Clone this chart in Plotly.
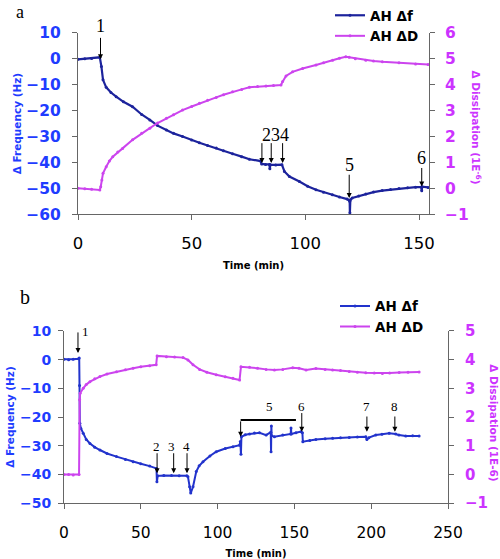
import plotly.graph_objects as go

# ---------------- Panel a data ----------------
t_a_f = [0, 3, 6, 9.6, 10.3, 11, 12.4, 14.5, 16.8, 20, 24, 28, 31.6, 35, 38.9, 42, 46, 50,
         53.4, 57, 60.8, 64, 68, 72, 75.4, 80.3, 80.8, 82.5, 84.2, 84.4, 84.6, 87, 89.7,
         90.8, 93, 97.4, 101, 104.7, 108, 111.9, 115, 118.4, 119.5, 119.6, 119.8, 120.6,
         123.5, 126.6, 130, 133.8, 137.5, 141.2, 145, 148.5, 151, 151.2, 151.4, 154]
f_a = [-0.2, 0.0, 0.1, 0.6, -3, -8.1, -11, -13, -14.6, -16.6, -18.5, -21.5, -23.6, -25.8,
       -27.5, -28.8, -30, -31.4, -32.4, -33.5, -34.5, -35.5, -36.7, -37.8, -38.8, -39.5,
       -40.6, -40.8, -40.8, -42.5, -40.9, -41, -40.9, -43.5, -45.5, -47.4, -49.2, -50.6,
       -51.6, -52.5, -53.4, -54.2, -55, -59.5, -54.5, -53.8, -53, -52.2, -51.5, -50.9,
       -50.5, -50.1, -49.8, -49.6, -49.5, -51, -49.4, -49.7]

t_a_d = [0, 3, 6, 9.6, 10, 10.5, 11, 12.4, 13.8, 15.3, 17.5, 19.6, 24, 28, 31.6, 35, 38.9,
         42, 46, 50, 53.4, 57, 60.8, 64, 68, 72, 75.4, 79, 82.7, 86, 89.3, 90, 91.5, 94.4,
         98.8, 104.7, 108, 112, 115, 117.8, 119.3, 122, 126.6, 130, 133.9, 141.2, 148.5, 154]
d_a = [0.0, -0.02, -0.04, -0.07, 0.06, 0.32, 0.58, 0.83, 1.05, 1.22, 1.4, 1.54, 1.87, 2.12,
       2.32, 2.52, 2.7, 2.84, 3.02, 3.16, 3.28, 3.4, 3.51, 3.61, 3.73, 3.82, 3.9, 3.93, 3.95,
       3.97, 3.99, 4.12, 4.34, 4.5, 4.63, 4.76, 4.85, 4.95, 5.02, 5.08, 5.06, 5.0, 4.95,
       4.92, 4.89, 4.85, 4.8, 4.78]

# ---------------- Panel b data ----------------
t_b_f = [0, 3, 6, 9.5, 9.9, 10.1, 10.3, 11, 12.5, 14.5, 16.9, 20, 23.4, 28, 34.2, 40, 45, 50,
         55.8, 60.2, 60.5, 61, 65, 70, 75, 80, 80.7, 81.8, 82.5, 84, 86.1, 88, 90.5, 95,
         99.1, 105, 110, 114.3, 114.8, 115.2, 115.5, 118, 120.8, 124, 127.3, 131.6, 134.6,
         134.8, 135, 135.2, 137, 142.4, 147.6, 147.8, 148, 151, 154.3, 155.2, 155.5, 160,
         164, 170, 174.9, 180, 185.7, 191, 196.5, 197.2, 198.5, 203, 207, 211.7, 216, 218,
         222.5, 227, 231.2]
f_b = [0.1, 0.0, 0.1, 0.3, 0.6, -9, -22.2, -24, -25.7, -27.8, -29.2, -30.5, -31.5, -32.7,
       -33.8, -34.8, -35.6, -36.3, -37.1, -37.9, -42.6, -40.5, -40.4, -40.4, -40.5, -40.5,
       -40.8, -44.3, -46.5, -44.3, -39, -37, -35.6, -33.6, -32.1, -31, -30.4, -29.8, -28.5,
       -33, -26.9, -26.2, -25.9, -25.6, -25.5, -26.3, -25.3, -32.1, -23.1, -26.5, -26.9,
       -26.3, -25.9, -23.8, -25.9, -25.5, -25.1, -25.5, -28.6, -28.2, -27.8, -27.6, -27.4,
       -27.2, -27.1, -27.0, -26.9, -27.8, -27.2, -26.3, -26.0, -25.7, -25.9, -26.3, -26.6,
       -26.5, -26.6]

t_b_d = [0, 3, 6, 9.8, 10.2, 10.5, 12.5, 14.5, 16.9, 20, 23.4, 28, 34.2, 40, 45, 50, 55.8, 60,
         60.6, 66.7, 72, 77.5, 80.7, 84, 88.3, 93, 99.1, 105, 110, 114.3, 115.2, 120.8, 126,
         131.6, 137, 142.4, 148.9, 153, 157.6, 164, 170, 174.9, 180, 185.7, 191, 196.5, 202,
         207.3, 212, 218.2, 224, 231.2]
d_b = [0.0, 0.0, -0.02, 0.0, 2.6, 2.83, 3.0, 3.13, 3.23, 3.33, 3.41, 3.5, 3.58, 3.65, 3.7,
       3.75, 3.79, 3.82, 4.13, 4.1, 4.09, 4.07, 3.99, 3.82, 3.66, 3.56, 3.47, 3.4, 3.35, 3.29,
       3.75, 3.73, 3.7, 3.66, 3.64, 3.66, 3.72, 3.7, 3.64, 3.69, 3.66, 3.64, 3.62, 3.59, 3.56,
       3.54, 3.53, 3.52, 3.53, 3.55, 3.56, 3.57]

# Event markers (arrow x, arrow tip y, arrow tail y)
arrows_a = [(80.9, -40.3, -32), (85, -40.3, -32), (90, -40.3, -32),
            (119.3, -53.8, -44.2), (151.2, -49.3, -41.6)]
labels_a = [("234", 86.8, -29.6), ("5", 119.3, -41.0), ("6", 151.2, -38.4)]
first_event_a = ("1", 9.9, -0.2)   # label drawn above the arrow

arrows_b = [(9.1, 2.3, 10.0), (60.6, -39.6, -32.1), (71.4, -39.6, -32.1),
            (80.1, -39.6, -32.1), (115, -26.9, -21.0), (154.8, -25.1, -18.1),
            (197.2, -25.1, -19.3), (215.4, -25.1, -19.3)]
labels_b = [("1", 14.3, 9.65), ("2", 60.4, -30.4), ("3", 70.0, -30.4), ("4", 80.0, -30.4),
            ("5", 134, -16.5), ("6", 154.8, -16.4), ("7", 197.2, -16.4), ("8", 215.4, -16.4)]
bracket_b = (115, 151, -21.0)

BLUE_A = "#1c239c"
BLUE_B = "#2233cc"
MAG = "#cc44ee"
TICK_BLUE = "#1f3cff"
TICK_MAG = "#cc33ff"
AXC = "#666666"
FONT = "DejaVu Sans"

fig = go.Figure()
fig.add_trace(go.Scatter(x=t_a_f, y=f_a, name="AH \u0394f", mode="lines+markers",
                         line=dict(color=BLUE_A, width=2.2), marker=dict(size=3, color=BLUE_A),
                         xaxis="x", yaxis="y", legend="legend"))
fig.add_trace(go.Scatter(x=t_a_d, y=d_a, name="AH \u0394D", mode="lines+markers",
                         line=dict(color=MAG, width=2), marker=dict(size=3, color=MAG),
                         xaxis="x", yaxis="y2", legend="legend"))
fig.add_trace(go.Scatter(x=t_b_f, y=f_b, name="AH \u0394f", mode="lines+markers",
                         line=dict(color=BLUE_B, width=2), marker=dict(size=3, color=BLUE_B),
                         xaxis="x2", yaxis="y3", legend="legend2"))
fig.add_trace(go.Scatter(x=t_b_d, y=d_b, name="AH \u0394D", mode="lines+markers",
                         line=dict(color=MAG, width=2), marker=dict(size=3, color=MAG),
                         xaxis="x2", yaxis="y4", legend="legend2"))

common_x = dict(showline=True, linecolor=AXC, linewidth=1, ticks="outside", ticklen=5,
                tickcolor=AXC, showgrid=False, zeroline=False, dtick=50, tick0=0,
                automargin=False)
common_y = dict(showline=True, linecolor=AXC, linewidth=1, ticks="outside", ticklen=5,
                tickcolor=AXC, showgrid=False, zeroline=False, automargin=False)

ann = []
def arrow(xr, yr, x, tip, tail):
    ann.append(dict(x=x, y=tip, ax=x, ay=tail, xref=xr, yref=yr, axref=xr, ayref=yr,
                    text="", showarrow=True, arrowhead=2, arrowsize=1, arrowwidth=1,
                    arrowcolor="black"))
def label(xr, yr, x, y, text, size):
    ann.append(dict(x=x, y=y, xref=xr, yref=yr, text=text, showarrow=False,
                    font=dict(family="Liberation Serif", size=size, color="black")))

# panel a
lab, x1, y1 = first_event_a
ann.append(dict(x=x1, y=y1, xref="x", yref="y", ax=0, ay=-33, text=lab, showarrow=True,
                arrowhead=2, arrowsize=1, arrowwidth=1, arrowcolor="black",
                font=dict(family="Liberation Serif", size=18, color="black")))
for (x, tip, tail) in arrows_a:
    arrow("x", "y", x, tip, tail)
for (lab, lx, ly) in labels_a:
    label("x", "y", lx, ly, lab, 18)
# panel b
for (x, tip, tail) in arrows_b:
    arrow("x2", "y3", x, tip, tail)
for (lab, lx, ly) in labels_b:
    label("x2", "y3", lx, ly, lab, 13)

# panel letters
ann.append(dict(x=0.04, y=1.0, xref="paper", yref="paper", text="a", showarrow=False,
                xanchor="center", yanchor="top",
                font=dict(family="Liberation Serif", size=18, color="black")))
ann.append(dict(x=0.05, y=0.469, xref="paper", yref="paper", text="b", showarrow=False,
                xanchor="center", yanchor="middle",
                font=dict(family="Liberation Serif", size=20, color="black")))
# right axis titles (read top to bottom)
ann.append(dict(x=0.954, y=0.772, xref="paper", yref="paper", xanchor="center",
                yanchor="middle",
                text="\u0394 Dissipation (1E<sup>-6</sup>)", textangle=90, showarrow=False,
                font=dict(family=FONT, size=10.5, color=TICK_MAG, weight="bold")))
ann.append(dict(x=0.988, y=0.243, xref="paper", yref="paper", xanchor="center",
                yanchor="middle",
                text="\u0394 Dissipation (1E-6)", textangle=90, showarrow=False,
                font=dict(family=FONT, size=10.5, color=TICK_MAG, weight="bold")))

shapes = [dict(type="line", xref="x2", yref="y3", x0=bracket_b[0], x1=bracket_b[1],
               y0=bracket_b[2], y1=bracket_b[2], line=dict(color="black", width=2))]

fig.update_layout(
    width=500, height=559, margin=dict(l=0, r=0, t=0, b=0, autoexpand=False),
    paper_bgcolor="white", plot_bgcolor="white",
    font=dict(family=FONT, color="black"),
    xaxis=dict(common_x, domain=[0.156, 0.858], range=[0, 154.4], anchor="y",
               tickfont=dict(size=16.5, color="black"), ticklabelstandoff=9,
               title=dict(text="Time (min)", standoff=10,
                          font=dict(size=10, color="black", weight="bold"))),
    yaxis=dict(common_y, domain=[0.617, 0.941], range=[-60, 10], dtick=10, anchor="x",
               tickfont=dict(size=15.5, color=TICK_BLUE, weight="bold"), ticklabelstandoff=8,
               title=dict(text="\u0394 Frequency (Hz)", standoff=2,
                          font=dict(size=10.5, color=TICK_BLUE, weight="bold"))),
    yaxis2=dict(common_y, overlaying="y", side="right", range=[-1, 6], dtick=1, anchor="x",
                tickfont=dict(size=15.5, color=TICK_MAG, weight="bold"), ticklabelstandoff=7),
    xaxis2=dict(common_x, domain=[0.128, 0.896], range=[0, 250], anchor="y3",
                tickfont=dict(size=15.5, color="black"), ticklabelstandoff=10,
                title=dict(text="Time (min)", standoff=10,
                           font=dict(size=10, color="black", weight="bold"))),
    yaxis3=dict(common_y, domain=[0.100, 0.408], range=[-50, 10], dtick=10, anchor="x2",
                tickfont=dict(size=14, color=TICK_BLUE, weight="bold"), ticklabelstandoff=4,
                title=dict(text="\u0394 Frequency (Hz)", standoff=3,
                           font=dict(size=10.5, color=TICK_BLUE, weight="bold"))),
    yaxis4=dict(common_y, overlaying="y3", side="right", range=[-1, 5], dtick=1, anchor="x2",
                tickfont=dict(size=15, color=TICK_MAG, weight="bold"), ticklabelstandoff=8),
    legend=dict(x=0.66, y=1.0, xanchor="left", yanchor="top", bgcolor="rgba(0,0,0,0)",
                font=dict(size=13.5, color="black", weight="bold"), tracegroupgap=0),
    legend2=dict(x=0.67, y=0.48, xanchor="left", yanchor="top", bgcolor="rgba(0,0,0,0)",
                 font=dict(size=13.5, color="black", weight="bold"), tracegroupgap=0),
    annotations=ann, shapes=shapes,
)

fig.write_html(
    "out.html",
    config={"displayModeBar": False},
    post_script=("document.documentElement.style.margin='0px';"
                 "document.body.style.margin='0px';"),
)
